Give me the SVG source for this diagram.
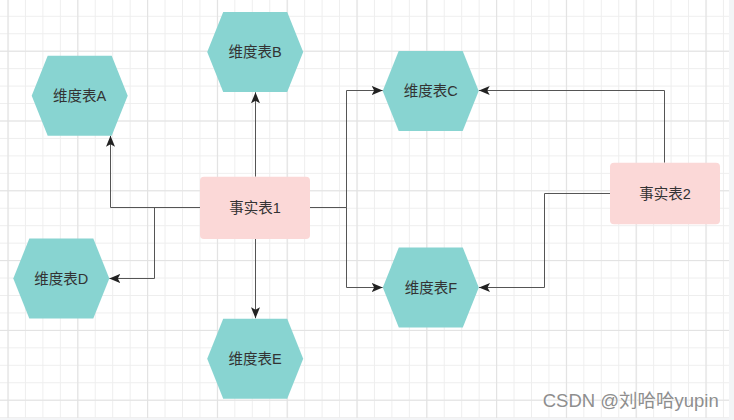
<svg xmlns="http://www.w3.org/2000/svg" width="734" height="420" viewBox="0 0 734 420">
  <style>
    .hex { fill: #88d4d1; stroke: none; }
    .fact { fill: #fbd8d7; stroke: none; }
    .label { font-family: "Liberation Sans", "Noto Sans CJK SC", sans-serif; font-size: 14.5px; fill: #333333; text-anchor: middle; dominant-baseline: central; }
    .edge { fill: none; stroke: #555555; stroke-width: 1; }
    .mark { font-family: "Liberation Sans", "Noto Sans CJK SC", sans-serif; font-size: 18.5px; fill: #8e8e8e; stroke: #ffffff; stroke-width: 0.6; paint-order: stroke; }
  </style>
  <defs>
    <pattern id="minor" patternUnits="userSpaceOnUse" x="7.5" y="-19.1" width="17.45" height="17.45">
      <path d="M0.5,0 V17.45 M0,0.5 H17.45" stroke="#eeeeee" stroke-width="1" fill="none"/>
    </pattern>
    <pattern id="major" patternUnits="userSpaceOnUse" x="7.5" y="-19.1" width="69.8" height="69.8">
      <path d="M0.5,0 V69.8 M0,0.5 H69.8" stroke="#e2e2e2" stroke-width="1.2" fill="none"/>
    </pattern>
    <marker id="arrow" viewBox="0 0 11 9" refX="11" refY="4.5" markerWidth="11" markerHeight="9" markerUnits="userSpaceOnUse" orient="auto">
      <path d="M0,0 L11,4.5 L0,9 L2.5,4.5 Z" fill="#222222"/>
    </marker>
  </defs>

  <!-- page background and grid -->
  <rect x="0" y="0" width="734" height="420" fill="#f3f4f6"/>
  <rect x="0" y="0" width="729" height="418" fill="#ffffff"/>
  <rect x="0" y="0" width="729" height="418" fill="url(#minor)"/>
  <rect x="0" y="0" width="729" height="418" fill="url(#major)"/>

  <!-- connectors -->
  <g id="edges">
    <path class="edge" d="M200,207.5 H110.5 V135.7" marker-end="url(#arrow)"/>
    <path class="edge" d="M200,207.5 H154.5 V278.5 H109.3" marker-end="url(#arrow)"/>
    <path class="edge" d="M255.5,176.7 V92.3" marker-end="url(#arrow)"/>
    <path class="edge" d="M255.5,239 V318.3" marker-end="url(#arrow)"/>
    <path class="edge" d="M310,207.5 H346.5 V90.5 H382.7" marker-end="url(#arrow)"/>
    <path class="edge" d="M310,207.5 H346.5 V287.5 H382.7" marker-end="url(#arrow)"/>
    <path class="edge" d="M664.5,162.7 V90.5 H478.7" marker-end="url(#arrow)"/>
    <path class="edge" d="M610,193.5 H544.5 V287.5 H479" marker-end="url(#arrow)"/>
  </g>

  <!-- dimension tables -->
  <g id="dimA" transform="translate(79.7,95.7)">
    <polygon class="hex" points="-48,0 -32,-40 32,-40 48,0 32,40 -32,40"/>
    <text class="label" x="0" y="0">维度表A</text>
  </g>
  <g id="dimB" transform="translate(255.2,52)">
    <polygon class="hex" points="-48,0 -32,-40 32,-40 48,0 32,40 -32,40"/>
    <text class="label" x="0" y="0">维度表B</text>
  </g>
  <g id="dimC" transform="translate(430.7,91)">
    <polygon class="hex" points="-48,0 -32,-40 32,-40 48,0 32,40 -32,40"/>
    <text class="label" x="0" y="0">维度表C</text>
  </g>
  <g id="dimD" transform="translate(61.3,278.5)">
    <polygon class="hex" points="-48,0 -32,-40 32,-40 48,0 32,40 -32,40"/>
    <text class="label" x="0" y="0">维度表D</text>
  </g>
  <g id="dimE" transform="translate(255.2,358.7)">
    <polygon class="hex" points="-48,0 -32,-40 32,-40 48,0 32,40 -32,40"/>
    <text class="label" x="0" y="0">维度表E</text>
  </g>
  <g id="dimF" transform="translate(430.8,287.5)">
    <polygon class="hex" points="-48,0 -32,-40 32,-40 48,0 32,40 -32,40"/>
    <text class="label" x="0" y="0">维度表F</text>
  </g>

  <!-- fact tables -->
  <g id="fact1">
    <rect class="fact" x="200" y="176.7" width="110" height="62.3" rx="4"/>
    <text class="label" x="255" y="208">事实表1</text>
  </g>
  <g id="fact2">
    <rect class="fact" x="610" y="162.7" width="110" height="61.6" rx="4"/>
    <text class="label" x="665" y="193.5">事实表2</text>
  </g>

  <text class="mark" x="542.7" y="406.5">CSDN @刘哈哈yupin</text>
</svg>
